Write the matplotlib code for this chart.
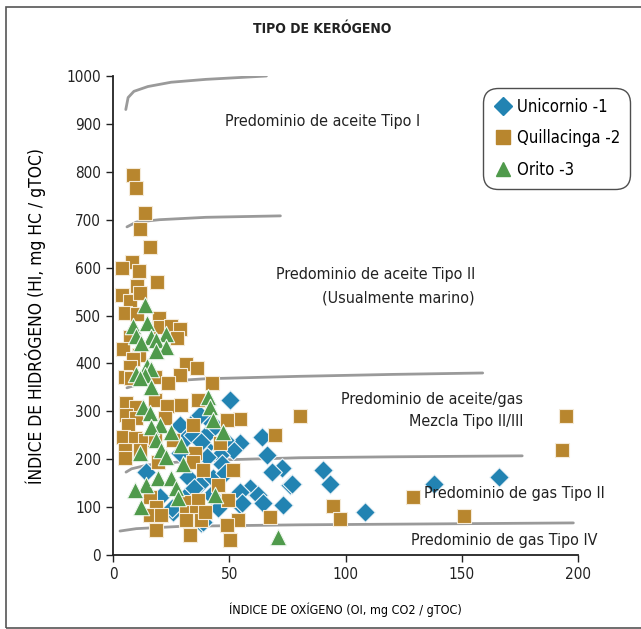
import matplotlib
matplotlib.use("Agg")
import matplotlib.pyplot as plt
from matplotlib import font_manager
from matplotlib.patches import Rectangle
from matplotlib.lines import Line2D

# Pick a narrow sans face if one is installed
_fonts = font_manager.fontManager.ttflist
_names = {f.name for f in _fonts}
_stretch = 'normal'
if 'Liberation Sans Narrow' in _names:
    _family = 'Liberation Sans Narrow'
elif any(f.name == 'DejaVu Sans' and 'condensed' in str(f.stretch).lower() for f in _fonts):
    _family, _stretch = 'DejaVu Sans', 'condensed'
else:
    _family = 'Roboto'
plt.rcParams['font.family'] = [_family, 'DejaVu Sans']
plt.rcParams['font.stretch'] = _stretch

# --- Muestras: índice de oxígeno (OI) e índice de hidrógeno (HI) ---
unicornio_oi = [50.3, 40.4, 40.9, 64.1, 54.6, 51.6, 39.6, 66.2, 46.0, 40.4,
                28.8, 36.6, 31.4, 34.4, 37.8, 28.8, 37.4, 44.0, 48.0,
                14.2, 32.3, 37.8, 33.1, 20.2, 25.8, 37.8, 25.4, 54.6, 43.0, 47.0, 35.0, 42.0,
                72.7, 68.4, 76.1, 58.9, 54.6, 62.4, 55.5, 64.5, 73.1, 45.2, 38.7, 48.2,
                90.3, 93.3, 77.0, 108.4, 138.0, 166.0]
unicornio_hi = [324, 286, 255, 246, 234, 219, 225, 209, 209, 205,
                271, 288, 244, 251, 236, 213, 292, 270, 240,
                173, 163, 150, 132, 121, 90, 67, 98, 104, 160, 190, 140, 125,
                182, 173, 146, 140, 132, 125, 109, 109, 104, 98, 69, 171,
                177, 148, 148, 90, 148, 163]

quillacinga_oi = [8.6, 9.9, 13.8, 11.6, 15.9, 8.2, 3.9, 11.2, 18.9,
                  10.3, 3.9, 7.3, 11.6, 5.2, 10.3, 19.8, 20.2, 24.9, 28.8, 27.5, 7.3,
                  4.3, 11.2, 8.6, 7.3, 31.4, 36.1, 28.8, 5.2,
                  7.7, 18.1, 23.7, 5.6, 9.9, 18.1, 23.2, 29.2, 36.6, 5.6, 9.9, 22.4,
                  6.5, 34.4, 4.3, 9.5, 13.8, 18.1, 25.8, 5.2, 11.6, 35.3, 5.2, 34.4, 19.4,
                  15.9, 18.5, 32.3, 36.6, 15.9, 20.6, 31.4, 35.7, 31.4, 37.8, 18.5, 33.1,
                  42.6, 54.6, 49.0, 69.7, 46.0,
                  51.6, 38.7, 45.2, 49.5, 39.6, 67.5, 53.8, 49.0, 50.3,
                  80.4, 94.6, 97.6, 129.0, 151.0, 195.0, 193.0]
quillacinga_hi = [793, 766, 714, 681, 643, 612, 599, 593, 570,
                  562, 543, 530, 547, 505, 503, 495, 476, 478, 472, 453, 455,
                  430, 418, 409, 392, 399, 390, 376, 372,
                  370, 372, 359, 317, 309, 324, 311, 313, 324, 292, 286, 286,
                  271, 271, 246, 244, 240, 244, 240, 219, 219, 213, 203, 194, 194,
                  121, 100, 111, 115, 84, 84, 90, 90, 73, 73, 52, 42,
                  359, 284, 282, 251, 234,
                  177, 177, 146, 115, 90, 79, 73, 63, 31,
                  290, 102, 75, 121, 81, 290, 219]

orito_oi = [13.8, 8.6, 14.6, 9.9, 16.3, 22.8, 18.5, 12.0, 22.8, 18.5, 14.6, 16.3, 9.9, 13.8,
            11.6, 16.3, 12.9, 15.9, 20.2, 16.3, 24.9, 18.5, 29.2, 20.6, 11.6, 22.8,
            14.2, 19.4, 24.9, 9.5, 27.1, 28.0, 12.0, 30.1,
            40.9, 41.7, 43.0, 47.3, 43.9, 71.0]
orito_hi = [522, 478, 484, 457, 455, 461, 449, 443, 434, 426, 395, 388, 378, 376,
            370, 351, 309, 296, 271, 267, 257, 240, 230, 219, 213, 205,
            146, 161, 161, 136, 140, 119, 100, 189,
            330, 309, 282, 257, 125, 38]

# --- Límites entre tipos de kerógeno ---
tipo1_oi = [5.5, 6.5, 9, 15, 25, 40, 55, 66]
tipo1_hi = [930, 955, 968, 978, 987, 993, 997, 1000]
tipo2_oi = [6, 10, 20, 40, 72]
tipo2_hi = [685, 695, 700, 705, 708]
tipo23_oi = [6, 10, 20, 40, 80, 120, 159]
tipo23_hi = [349, 355, 362, 368, 373, 377, 380]
gas2_oi = [5.6, 8, 15, 30, 50, 80, 120, 176]
gas2_hi = [173, 180, 188, 195, 199, 203, 205, 207]
gas4_oi = [3, 10, 30, 80, 140, 198]
gas4_hi = [50, 55, 60, 63, 65, 67]

x_ticks = [0, 50, 100, 150, 200]
y_ticks = [0, 100, 200, 300, 400, 500, 600, 700, 800, 900, 1000]

C_BLUE = '#2283b2'
C_BROWN = '#b8862e'
C_GREEN = '#4f9a4b'

fig = plt.figure(figsize=(6.41, 6.29), dpi=100)
ax = fig.add_axes([113 / 641, 74 / 629, 465 / 641, 479 / 629])
ax.set_xlim(0, 200)
ax.set_ylim(0, 1000)

for sp in ('top', 'right'):
    ax.spines[sp].set_visible(False)
for sp in ('left', 'bottom'):
    ax.spines[sp].set_color('#222222')
    ax.spines[sp].set_linewidth(1.3)

ax.set_xticks(x_ticks)
ax.set_yticks(y_ticks)
ax.tick_params(direction='out', length=5, width=1, colors='#222222', labelsize=11)

curve_kw = dict(color='#9a9a9a', lw=2, solid_capstyle='round', zorder=2)
for xs, ys in ((tipo1_oi, tipo1_hi), (tipo2_oi, tipo2_hi), (tipo23_oi, tipo23_hi),
               (gas2_oi, gas2_hi), (gas4_oi, gas4_hi)):
    ax.plot(xs, ys, **curve_kw)

ax.scatter(unicornio_oi, unicornio_hi, marker='D', s=100, c=C_BLUE,
           edgecolors='#eef4f8', linewidths=0.8, zorder=3)
ax.scatter(quillacinga_oi, quillacinga_hi, marker='s', s=110, c=C_BROWN,
           edgecolors='#f4ead8', linewidths=0.8, zorder=4)
ax.scatter(orito_oi, orito_hi, marker='^', s=140, c=C_GREEN,
           edgecolors='#eef6ee', linewidths=0.8, zorder=5)

txt_kw = dict(fontsize=11.5, color='#222222', zorder=6)
ax.text(90, 904, 'Predominio de aceite Tipo I', ha='center', va='center', **txt_kw)
ax.text(155.7, 585, 'Predominio de aceite Tipo II', ha='right', va='center', **txt_kw)
ax.text(155.7, 537, '(Usualmente marino)', ha='right', va='center', **txt_kw)
ax.text(176.3, 324, 'Predominio de aceite/gas', ha='right', va='center', **txt_kw)
ax.text(176.3, 278, 'Mezcla Tipo II/III', ha='right', va='center', **txt_kw)
ax.text(211.6, 129, 'Predominio de gas Tipo II', ha='right', va='center', **txt_kw)
ax.text(208.6, 31, 'Predominio de gas Tipo IV', ha='right', va='center', **txt_kw)

ax.set_xlabel('ÍNDICE DE OXÍGENO (OI, mg CO2 / gTOC)', fontsize=9, labelpad=15)
ax.set_ylabel('ÍNDICE DE HIDRÓGENO (HI, mg HC / gTOC)', fontsize=12.5, labelpad=15)

fig.text(322 / 641, 1 - 29 / 629, 'TIPO DE KERÓGENO', ha='center', va='center',
         fontsize=10, fontweight='bold', color='#222222')

# Leyenda en caja redondeada
handles = [Line2D([], [], marker='D', ls='', color=C_BLUE, ms=9.5, label='Unicornio -1'),
           Line2D([], [], marker='s', ls='', color=C_BROWN, ms=9.5, label='Quillacinga -2'),
           Line2D([], [], marker='^', ls='', color=C_GREEN, ms=10.5, label='Orito -3')]
leg = fig.legend(handles=handles, loc='upper right',
                 bbox_to_anchor=(630 / 641, 1 - 88 / 629), fontsize=12,
                 frameon=True, fancybox=True, edgecolor='#222222',
                 handletextpad=0.3, labelspacing=0.8, borderpad=0.6,
                 handlelength=1.1, borderaxespad=0)
leg.get_frame().set_linewidth(1.0)
leg.get_frame().set_boxstyle('round,pad=0.0,rounding_size=0.9')

# Marco exterior
fig.patches.append(Rectangle((6 / 641, 1 / 629), 640 / 641, 1 - 8 / 629,
                             transform=fig.transFigure, fill=False,
                             edgecolor='#555555', lw=1.2))

fig.savefig('out.png', dpi=100)
